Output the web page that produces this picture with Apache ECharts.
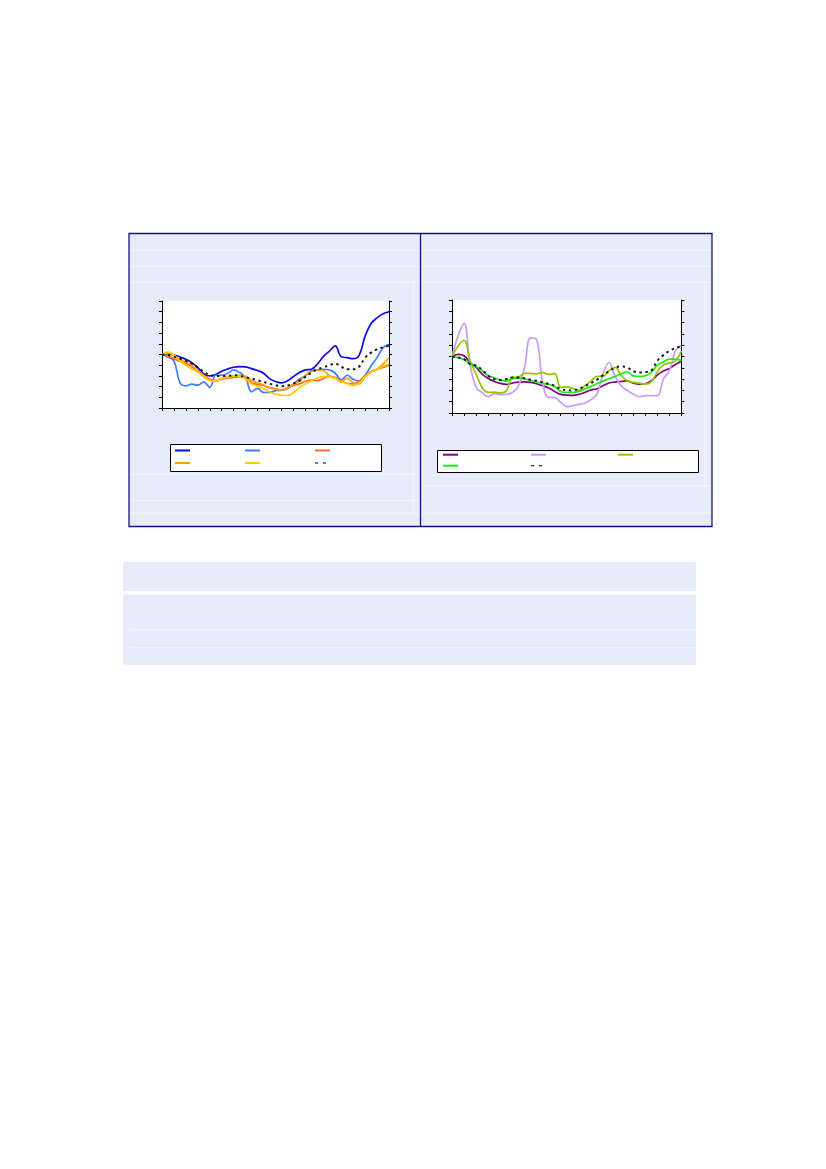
<!DOCTYPE html>
<html lang="en">
<head>
<meta charset="UTF-8">
<title>chart</title>
<style>
    html, body { margin:0; padding:0; background:#fff; }
    #main { width:826px; height:1169px; }
</style>
<script src="https://cdn.jsdelivr.net/npm/echarts@6.0.0/dist/echarts.min.js"></script>
</head>
<body>
<div id="main"></div>
<script type="text/javascript">
// periods on the x axis (a tick every second point)
var periods = ['0','1','2','3','4','5','6','7','8','9','10','11','12','13','14','15','16','17','18','19',
               '20','21','22','23','24','25','26','27','28','29','30','31','32','33','34','35','36','37','38'];

// left panel
var leftNames  = ['L1', 'L2', 'L3', 'L4', 'L5', 'L6'];
var leftColors = ['#0a0ae6', '#3f7dff', '#ff6a1c', '#ffa012', '#ffcc00', '#1a1a1a'];
var darkBlue  = [99.8,100.8,99.5,97.7,95.5,92.4,87.8,81.9,80,81.3,84.4,86.5,88.1,88.7,88.4,86.8,85,82.5,77.5,
                 74.8,73.5,75.4,79.4,83.1,85.6,86.2,90.9,98,103,108,98,97,96.1,99.2,117.2,129,134.2,138,139.8];
var midBlue   = [99.8,97.7,94,73.8,70.7,72.3,71.3,74.4,69.2,80.6,80.6,82.5,85.6,83.1,78.5,65.1,68.3,64.5,64.5,
                 66.1,66.7,68.3,72.3,76.9,80,84.7,85.6,86.2,85.6,82.5,76.3,80.6,76.9,75.4,80.6,89.3,97.1,106.3,109.5];
var orangeRed = [99.8,98.5,96,93.5,91.5,88.5,85,80.5,77,75.5,77,78,78.5,79,78,73.5,72,71,69,
                 68,67,68.5,71,72.5,75,76,75.5,77.5,79.5,78.5,75,73,72.5,75,80,84,86,88,90];
var orange    = [100,101.5,99,95,93,90,84.5,80,76,75.5,78,79.5,80,80.5,79.5,76,73.5,71.5,69,
                 67.5,67,69,72,75,80.5,84,85.5,85,80,78,74,78,73.5,72.5,79.5,84,86.5,91,97];
var yellow    = [100,102.5,99.5,94,90,86.5,83.5,79,75.5,75,77.5,79,80,79.5,77,72.5,70.5,68,65,
                 63,62,61.5,64.5,69,72.5,75.5,78,79.5,79,77.5,74.5,73,71,73,79,83.5,86,89,91];
var leftAvg   = [99.8,99.5,98,96.1,94,91.5,87.8,84,80.6,80,80,80,80.6,80,78.8,77.5,76,74.4,72.6,
                 71.3,70.4,71,72.9,75.4,79.1,83.1,86.2,87.8,90,91.5,88.7,86.2,86.2,88.7,97,101.7,104.8,106.7,108.2];

// right panel
var rightNames  = ['R1', 'R2', 'R3', 'R4', 'R5'];
var rightColors = ['#800080', '#cc99ff', '#99c400', '#14f014', '#1a1a1a'];
var purple      = [99.7,101.8,100.6,94.7,90.3,84.4,80.6,77.9,76.2,75.3,76.5,77.4,77.6,77.1,75.9,74.1,72.1,69.1,66.5,
                   65.9,65.6,66.5,68.2,70.3,71.5,74.1,76.5,77.4,77.9,78.5,76.5,75.6,75.9,78.5,83.5,87.1,89.4,92.9,95.9];
var lavender    = [99.7,118.2,129.4,93,72.6,68.2,64.4,67.4,66.2,66.5,68.2,74.1,90,116.5,115,77,63.8,63.8,59.4,
                   55.6,56.5,57.6,58.8,61.8,66.8,84.4,94.7,82.4,74.1,70,66.8,64.4,65.3,65.3,65.3,80,87.4,105,109.4];
var yellowGreen = [99.7,109.4,114.4,96.2,84.4,72.6,68.2,68.5,67.6,69.7,81.5,81.8,85,85,84.7,85.9,84.1,85,72.6,
                   73.2,71.8,70.3,74.1,78.2,82.4,82.4,87.4,90.3,83.5,78.5,77.1,76.5,75.6,77.6,86.5,92.6,94.1,96.2,105];
var green       = [99.7,99.1,97.1,93.2,91.2,87.4,82.9,81.2,79.1,78.2,80.3,80.9,80.3,78.8,77.4,76.2,75.3,73.5,69.1,
                   68.2,68.2,69.1,71.2,73.5,75.9,78.2,80.3,82.4,84.7,86.5,82.9,82.4,82.9,85.9,92.4,95.3,97.6,97.6,96.2];
var rightAvg    = [99.7,99.1,97.6,93.2,91.8,88.2,82.9,80,79.1,80,81.5,81.5,80.6,79.4,78.5,77.1,75.6,74.1,71.2,
                   70.3,70,71.5,73.8,76.5,79.4,83.5,87.1,90,91.2,90.3,87.1,85.9,86.2,87.6,96.2,101.2,105,107.4,109.4];

var leftData  = [darkBlue, midBlue, orangeRed, orange, yellow, leftAvg];
var rightData = [purple, lavender, yellowGreen, green, rightAvg];

var myChart = echarts.init(document.getElementById('main'));

var grids = [
    {left:162, top:301, width:227, height:107},
    {left:452, top:300, width:229.5, height:113}
];

function xAxisFor(i) {
    return {
        gridIndex: i, type: 'category', data: periods, boundaryGap: false,
        axisLine: {lineStyle: {color: '#000', width: 1}},
        axisTick: {interval: 1, length: 3, lineStyle: {color: '#000'}},
        axisLabel: {show: false}, splitLine: {show: false}
    };
}
function yAxisFor(i, pos) {
    return {
        gridIndex: i, type: 'value', position: pos, min: 50, max: 150, interval: 10,
        axisLine: {show: true, lineStyle: {color: '#000', width: 1}},
        axisTick: {show: true, length: 3, lineStyle: {color: '#000'}},
        axisLabel: {show: false}, splitLine: {show: false}
    };
}

var series = [];
var legends = [];
function addLine(name, color, data, grid, dashed) {
    series.push({
        name: name, type: 'line', xAxisIndex: grid, yAxisIndex: grid * 2,
        data: data, symbol: 'none', smooth: 0.4, silent: true,
        lineStyle: {color: color, width: dashed ? 2 : 1.7, type: dashed ? [2.5, 3.5] : 'solid'},
        itemStyle: {color: color}
    });
}
leftNames.forEach(function (n, k) { addLine(n, leftColors[k], leftData[k], 0, k === 5); });
rightNames.forEach(function (n, k) { addLine(n, rightColors[k], rightData[k], 1, k === 4); });

// legend slots (no visible text in the original)
var leftSlots  = [[175,450.5],[245,450.5],[315,450.5],[175,463],[245,463],[315,463]];
var rightSlots = [[443,454.7],[531,454.7],[618,454.7],[443,465.7],[531,465.7]];
var dashIcon = 'path://M0,0h3v1h-3z M7,0h3v1h-3z';
function addLegend(name, slot, dashed) {
    legends.push({
        data: [{name: name, icon: dashed ? dashIcon : 'rect', itemStyle: dashed ? {color: '#000'} : undefined}],
        left: slot[0], top: slot[1] - (dashed ? 1.5 : 1), padding: 0,
        itemWidth: dashed ? 11 : 15, itemHeight: dashed ? 3 : 2, selectedMode: false,
        formatter: function () { return ''; },
        textStyle: {fontSize: 1}
    });
}
leftNames.forEach(function (n, k) { addLegend(n, leftSlots[k], k === 5); });
rightNames.forEach(function (n, k) { addLegend(n, rightSlots[k], k === 4); });

var faint = {stroke: '#f3f5fd', lineWidth: 1};
function hline(x1, x2, y) { return {type: 'line', z: -5, shape: {x1: x1, y1: y, x2: x2, y2: y}, style: faint}; }
function vline(x, y1, y2) { return {type: 'line', z: -5, shape: {x1: x, y1: y1, x2: x, y2: y2}, style: faint}; }

var graphics = [
    {type: 'rect', z: -10, shape: {x: 129, y: 233.5, width: 583, height: 293},
     style: {fill: '#e8ebf9', stroke: '#14147f', lineWidth: 1.3}},
    {type: 'line', z: -4, shape: {x1: 420.5, y1: 233.5, x2: 420.5, y2: 526.5},
     style: {stroke: '#14147f', lineWidth: 1.3}},
    hline(130, 419, 250.5), hline(130, 419, 266.5), hline(130, 419, 282),
    hline(130, 419, 474), hline(130, 419, 500.5), hline(130, 419, 513),
    hline(422, 711, 250.5), hline(422, 711, 266.5), hline(422, 711, 282),
    hline(422, 711, 486), hline(422, 711, 513),
    vline(413.5, 282, 513), vline(705, 282, 486),
    {type: 'rect', z: 3, shape: {x: 170.5, y: 444.5, width: 211, height: 27},
     style: {fill: '#fff', stroke: '#000', lineWidth: 1}},
    {type: 'rect', z: 3, shape: {x: 437.5, y: 450.5, width: 261, height: 22},
     style: {fill: '#fff', stroke: '#000', lineWidth: 1}},
    {type: 'rect', z: -10, shape: {x: 123, y: 562, width: 573, height: 29}, style: {fill: '#e8ebf9'}},
    {type: 'rect', z: -10, shape: {x: 123, y: 594.5, width: 573, height: 70.5}, style: {fill: '#e8ebf9'}},
    hline(130, 696, 629.5), hline(130, 696, 647.5)
];

var option = {
    animation: false,
    backgroundColor: '#fff',
    graphic: {elements: graphics},
    grid: grids.map(function (g) {
        return {left: g.left, top: g.top, width: g.width, height: g.height,
                show: true, backgroundColor: '#fff', borderWidth: 0};
    }),
    xAxis: [xAxisFor(0), xAxisFor(1)],
    yAxis: [yAxisFor(0, 'left'), yAxisFor(0, 'right'), yAxisFor(1, 'left'), yAxisFor(1, 'right')],
    legend: legends,
    series: series
};
myChart.setOption(option);
</script>
</body>
</html>
